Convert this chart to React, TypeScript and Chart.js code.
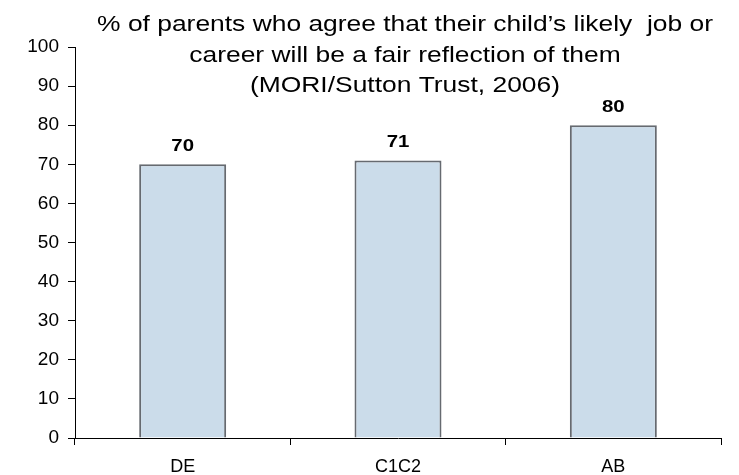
import React, { useEffect, useRef } from "react";
import { Chart, registerables } from "chart.js";

Chart.register(...registerables);

const categories = ["DE", "C1C2", "AB"];
const values = [70, 71, 80];
const titleLines = [
  "% of parents who agree that their child\u2019s likely  job or",
  "career will be a fair reflection of them",
  "(MORI/Sutton Trust, 2006)",
];
const yMin = 0;
const yMax = 100;
const yStep = 10;

const FONT = "'Liberation Sans', Arial, sans-serif";

export default function App() {
  const ref = useRef<HTMLCanvasElement | null>(null);

  useEffect(() => {
    document.body.style.margin = "0";
    const canvas = ref.current;
    if (!canvas) return;

    const titlePlugin = {
      id: "overlayTitle",
      afterDraw(chart: any) {
        const ctx = chart.ctx;
        ctx.save();
        ctx.fillStyle = "#000";
        ctx.font = `22px ${FONT}`;
        ctx.textAlign = "center";
        ctx.textBaseline = "alphabetic";
        const sx = 1.2;
        const cx = 405;
        const ys = [31, 62, 92];
        titleLines.forEach((t, i) => {
          ctx.save();
          ctx.translate(cx, ys[i]);
          ctx.scale(sx, 1);
          ctx.fillText(t, 0, 0);
          ctx.restore();
        });
        ctx.restore();
      },
    };

    const labelPlugin = {
      id: "barLabels",
      afterDatasetsDraw(chart: any) {
        const ctx = chart.ctx;
        const meta = chart.getDatasetMeta(0);
        ctx.save();
        ctx.fillStyle = "#000";
        ctx.font = `bold 17px ${FONT}`;
        ctx.textAlign = "center";
        ctx.textBaseline = "middle";
        meta.data.forEach((el: any, i: number) => {
          ctx.save();
          ctx.translate(el.x, el.y - 18);
          ctx.scale(1.2, 1);
          ctx.fillText(String(values[i]), 0, 0);
          ctx.restore();
        });
        ctx.restore();
      },
    };

    const chart = new Chart(canvas, {
      type: "bar",
      data: {
        labels: categories,
        datasets: [
          {
            data: values,
            backgroundColor: "#cbdcea",
            borderColor: "#666a70",
            borderWidth: 2,
            barPercentage: 0.404,
            categoryPercentage: 1,
          },
        ],
      },
      options: {
        animation: false,
        responsive: false,
        maintainAspectRatio: false,
        layout: { padding: { top: 47, right: 18, left: 0, bottom: 0 } },
        plugins: {
          legend: { display: false },
          title: { display: false },
          tooltip: { enabled: false },
        },
        scales: {
          x: {
            afterFit(scale: any) {
              scale.height = 37;
            },
            grid: {
              display: true,
              offset: true,
              drawOnChartArea: false,
              drawTicks: true,
              tickLength: 7,
              color: "#000",
            },
            border: { display: true, color: "#000", width: 1 },
            ticks: {
              color: "#000",
              font: { family: FONT, size: 18 },
              padding: 11,
              maxRotation: 0,
            },
          },
          y: {
            min: yMin,
            max: yMax,
            afterFit(scale: any) {
              scale.width = 75;
            },
            grid: {
              display: true,
              drawOnChartArea: false,
              drawTicks: true,
              tickLength: 7,
              color: "#000",
            },
            border: { display: true, color: "#000", width: 1 },
            ticks: {
              stepSize: yStep,
              color: "#000",
              font: { family: FONT, size: 19 },
              padding: 9,
            },
          },
        },
      },
      plugins: [titlePlugin, labelPlugin],
    });

    return () => chart.destroy();
  }, []);

  return (
    <div style={{ width: 739, height: 475 }}>
      <canvas ref={ref} width={739} height={475} style={{ display: "block", width: 739, height: 475 }} />
    </div>
  );
}
